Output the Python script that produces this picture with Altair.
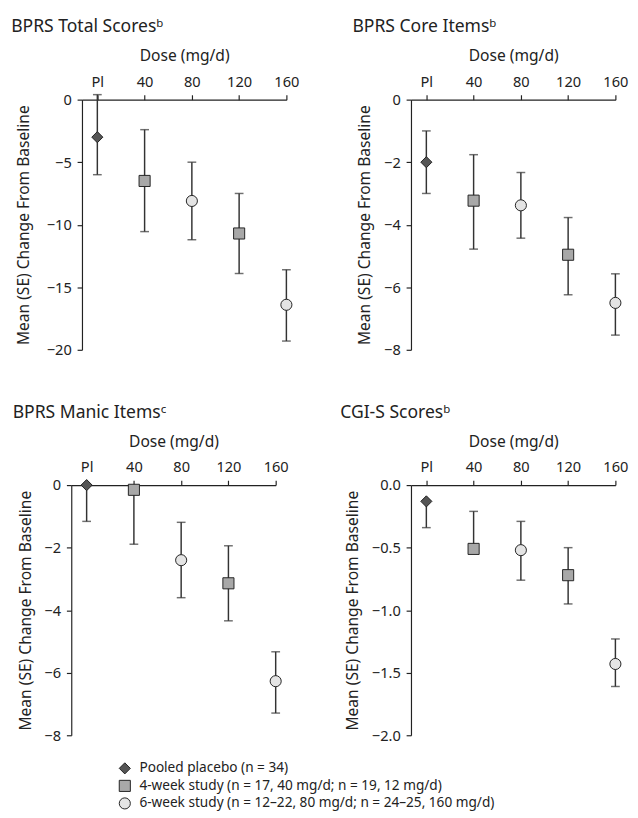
import altair as alt
import pandas as pd

FONT = "Noto Sans"
INK = "#222222"

doses = [0, 40, 80, 120, 160]
groups = [
    "Pooled placebo (n = 34)",
    "4-week study (n = 17, 40 mg/d; n = 19, 12 mg/d)",
    "6-week study (n = 12\u201322, 80 mg/d; n = 24\u201325, 160 mg/d)",
    "4-week study (n = 17, 40 mg/d; n = 19, 12 mg/d)",
    "6-week study (n = 12\u201322, 80 mg/d; n = 24\u201325, 160 mg/d)",
]
group_order = groups[:3]
x_ticks = [0, 40, 80, 120, 160]

# BPRS Total Scores
total_mean = [-3.0, -6.5, -8.1, -10.7, -16.4]
total_upper = [0.4, -2.4, -5.0, -7.5, -13.6]
total_lower = [-6.0, -10.55, -11.2, -13.9, -19.3]

# BPRS Core Items
core_mean = [-2.0, -3.23, -3.38, -4.96, -6.5]
core_upper = [-1.0, -1.76, -2.33, -3.77, -5.57]
core_lower = [-3.0, -4.78, -4.43, -6.24, -7.53]

# BPRS Manic Items
manic_mean = [0.0, -0.15, -2.4, -3.14, -6.27]
manic_upper = [None, None, -1.19, -1.94, -5.33]
manic_lower = [-1.16, -1.89, -3.6, -4.34, -7.29]

# CGI-S Scores
cgi_mean = [-0.13, -0.51, -0.52, -0.72, -1.43]
cgi_upper = [None, -0.21, -0.29, -0.50, -1.23]
cgi_lower = [-0.34, None, -0.76, -0.95, -1.61]

shape_range = ["diamond", "square", "circle"]
fill_range = ["#555555", "#a8a8a8", "#e4e4e4"]
stroke_range = [INK, INK, INK]

W, H = 210, 257

LEGEND = dict(title=None, orient="none", legendX=48, legendY=680,
              labelFontSize=14, labelFont=FONT, labelColor=INK,
              labelLimit=500, symbolSize=130, labelOffset=8,
              symbolStrokeWidth=1, rowPadding=2)


def panel(title, means, uppers, lowers, ydomain, yticks, yfmt, shift=0, ytitle_pad=11):
    rows, caps = [], []
    for d, g, m, u, l in zip(doses, groups, means, uppers, lowers):
        rows.append({"dose": d, "group": g, "mean": m,
                     "lo": l if l is not None else m,
                     "hi": u if u is not None else m})
        for v in (u, l):
            if v is not None:
                caps.append({"dose": d, "cap": v})
    df = pd.DataFrame(rows)
    cdf = pd.DataFrame(caps)

    xscale = alt.Scale(domain=[-13, 160], nice=False, zero=False)
    if shift:
        xscale = alt.Scale(domain=[-13, 160], nice=False, zero=False, range=[shift, W + shift])
    xenc = alt.X("dose:Q", scale=xscale,
                 axis=alt.Axis(orient="top", values=x_ticks, title="Dose (mg/d)",
                               labelExpr="datum.value == 0 ? 'Pl' : datum.label",
                               labelFlush=False, labelPadding=6, titlePadding=11))
    yaxis_kw = dict(values=yticks, format=yfmt,
                    title="Mean (SE) Change From Baseline",
                    labelPadding=6, titlePadding=ytitle_pad)
    if shift:
        yaxis_kw["offset"] = -shift
    yaxis = alt.Axis(**yaxis_kw)
    yscale = alt.Scale(domain=ydomain, nice=False, zero=False)

    bars = alt.Chart(df).mark_rule(color="#333333", strokeWidth=1.5).encode(
        x=xenc,
        y=alt.Y("lo:Q", scale=yscale, axis=yaxis),
        y2="hi:Q",
    )
    capm = alt.Chart(cdf).mark_tick(color="#333333", orient="horizontal",
                                    size=9, thickness=1.5).encode(
        x=xenc,
        y=alt.Y("cap:Q", scale=yscale, axis=yaxis),
    )
    pts = alt.Chart(df).mark_point(filled=True, strokeWidth=1,
                                   size=130, opacity=1, fillOpacity=1, strokeOpacity=1).encode(
        x=xenc,
        y=alt.Y("mean:Q", scale=yscale, axis=yaxis),
        shape=alt.Shape("group:N", scale=alt.Scale(domain=group_order, range=shape_range),
                        legend=alt.Legend(**LEGEND)),
        fill=alt.Fill("group:N", scale=alt.Scale(domain=group_order, range=fill_range),
                      legend=alt.Legend(**LEGEND)),
        stroke=alt.Stroke("group:N", scale=alt.Scale(domain=group_order, range=stroke_range),
                          legend=alt.Legend(**LEGEND)),
    )
    return alt.layer(bars, capm, pts).properties(
        width=W + shift, height=H,
        title=alt.TitleParams(title, anchor="start", dx=-5),
    )


tl = panel("BPRS Total Scores\u1d47", total_mean, total_upper, total_lower,
           [-20, 0], [0, -5, -10, -15, -20], "d", shift=11, ytitle_pad=15)
tr = panel("BPRS Core Items\u1d47", core_mean, core_upper, core_lower,
           [-8, 0], [0, -2, -4, -6, -8], "d")
bl = panel("BPRS Manic Items\u1d9c", manic_mean, manic_upper, manic_lower,
           [-8, 0], [0, -2, -4, -6, -8], "d")
br = panel("CGI-S Scores\u1d47", cgi_mean, cgi_upper, cgi_lower,
           [-2, 0], [0, -0.5, -1.0, -1.5, -2.0], ".1f")

top = alt.hconcat(tl, tr, spacing=54)
bottom = alt.hconcat(bl, br, spacing=53)

chart = alt.concat(top, bottom, columns=1, spacing=48, align="none").properties(
    padding={"left": 3, "top": 0, "right": 2, "bottom": 2}
).configure_view(stroke=None).configure_axis(
    grid=False, domainColor=INK, tickColor=INK, labelColor=INK, titleColor=INK,
    labelFont=FONT, titleFont=FONT, labelFontSize=15, titleFontSize=16,
    titleFontWeight="normal", tickSize=5, domainWidth=1.2, tickWidth=1.2,
).configure_title(
    font=FONT, fontSize=18, fontWeight="normal", color=INK, offset=12,
).configure_legend(
    labelFont=FONT,
)

chart.save("out.html", embed_options={"renderer": "svg", "actions": False})
